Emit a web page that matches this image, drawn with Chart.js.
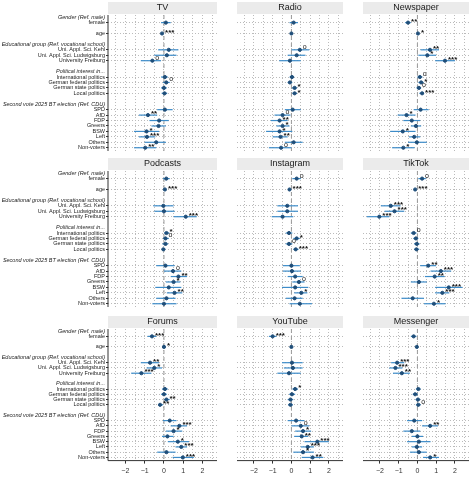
<!DOCTYPE html>
<html>
<head>
<meta charset="utf-8">
<script src="https://cdn.jsdelivr.net/npm/chart.js@4.4.1/dist/chart.umd.min.js"></script>
<style>
  body { margin: 0; background: #fff; }
  .panel { position: absolute; }
</style>
</head>
<body>
<script>
// row labels (headers are italic, blanks are spacers)
const rowLabels = ['Gender (Ref. male)', 'female', '', 'age', '', 'Educational group (Ref. vocational school)',
  'Uni. Appl. Sci. Kehl', 'Uni. Appl. Sci. Ludwigsburg', 'University Freiburg', '',
  'Political interest in...', 'International politics', 'German federal politics', 'German state politics', 'Local politics', '',
  'Second vote 2025 BT election (Ref. CDU)', 'SPD', 'AfD', 'FDP', 'Greens', 'BSW', 'Left', 'Others', 'Non-voters'];
const headerRows = [0, 5, 10, 16];
const varRows = [1, 3, 6, 7, 8, 11, 12, 13, 14, 17, 18, 19, 20, 21, 22, 23, 24];
const xTicks = [-2, -1, 0, 1, 2];

// coefficients per medium: estimate, lower, upper, significance
const tvEst  = [0.1, -0.1, 0.25, 0.15, -0.6, 0.05, 0.12, 0, 0.03, 0.05, -0.83, -0.25, -0.28, -0.9, -0.88, -0.4, -0.97];
const tvLow  = [-0.15, -0.13, -0.3, -0.5, -1.2, -0.15, -0.05, -0.15, -0.12, -0.35, -1.3, -0.75, -0.65, -1.55, -1.3, -1.0, -1.55];
const tvHigh = [0.35, -0.07, 0.75, 0.65, -0.15, 0.2, 0.3, 0.15, 0.17, 0.45, -0.35, 0.25, 0.1, -0.25, -0.45, 0.1, -0.4];
const tvSig  = ['', '***', '', '', 'o', '', 'o', '', '', '', '**', '', '', '*', '***', '', '**'];

const radioEst  = [0.12, 0, 0.45, 0.28, -0.08, 0.03, -0.08, 0.17, 0.17, 0.07, -0.47, -0.63, -0.47, -0.63, -0.58, 0.12, -0.55];
const radioLow  = [-0.1, -0.03, 0, -0.2, -0.65, -0.1, -0.2, 0.03, 0.05, -0.35, -0.9, -1.1, -0.8, -1.35, -1.0, -0.35, -1.2];
const radioHigh = [0.35, 0.03, 0.95, 0.75, 0.5, 0.15, 0.05, 0.3, 0.3, 0.5, -0.05, -0.2, -0.1, 0.05, -0.2, 0.6, 0];
const radioSig  = ['', '', 'o', '', '', '', '', '*', '*', '', 'o', '**', '*', '*', '**', '', 'o'];

const newsEst  = [-0.5, 0.03, 0.67, 0.53, 1.47, 0.13, 0.2, 0.08, 0.25, 0.17, -0.58, -0.3, -0.08, -0.78, -0.17, -0.03, -0.75];
const newsLow  = [-0.65, 0, 0.17, 0.05, 0.95, 0, 0.05, -0.05, 0.1, -0.2, -1.05, -0.75, -0.35, -1.45, -0.45, -0.5, -1.35];
const newsHigh = [-0.35, 0.06, 1.15, 1.0, 2.0, 0.27, 0.33, 0.2, 0.35, 0.6, -0.1, 0.15, 0.2, -0.1, 0.15, 0.5, -0.15];
const newsSig  = ['**', '*', '**', '*', '***', 'o', '*', 'o', '***', '', '*', '', '', '*', '', '', '*'];

const podEst  = [0.12, 0.05, -0.03, 0, 1.13, 0.13, 0.08, 0.08, -0.03, 0.08, 0.47, 0.75, 0.5, 0.25, 0.55, 0.13, 0];
const podLow  = [-0.05, 0.02, -0.55, -0.5, 0.5, 0, -0.05, -0.08, -0.12, -0.4, 0, 0.35, 0.1, -0.45, 0.15, -0.4, -0.6];
const podHigh = [0.3, 0.08, 0.5, 0.55, 1.7, 0.28, 0.25, 0.22, 0.07, 0.55, 0.9, 1.2, 0.85, 0.9, 0.95, 0.6, 0.65];
const podSig  = ['', '***', '', '', '***', '*', 'o', '', '', '', 'o', '**', '*', '', '**', '', ''];

const instaEst  = [0.28, -0.1, -0.22, -0.22, -0.47, -0.13, 0.28, -0.13, 0.23, 0, 0.03, 0.2, 0.4, 0.2, 0.53, 0.17, 0.45];
const instaLow  = [0.05, -0.13, -0.75, -0.75, -1.05, -0.3, 0.1, -0.3, 0.1, -0.45, -0.45, -0.2, 0.05, -0.5, 0.15, -0.3, -0.1];
const instaHigh = [0.5, -0.07, 0.35, 0.35, 0.1, 0.05, 0.45, 0.05, 0.38, 0.45, 0.5, 0.6, 0.7, 0.9, 0.85, 0.6, 1.1];
const instaSig  = ['o', '***', '', '', '', '', '*', 'o', '***', '', '', '', 'o', '', '*', '', ''];

const tiktokEst  = [0.25, -0.12, -1.42, -1.22, -2.03, -0.2, -0.08, -0.03, -0.05, 0.58, 1.25, 0.92, 0.08, 1.67, 1.33, -0.25, 0.88];
const tiktokLow  = [0.05, -0.15, -1.95, -1.75, -2.7, -0.35, -0.22, -0.18, -0.18, 0.15, 0.7, 0.4, -0.35, 0.95, 0.95, -0.85, 0.35];
const tiktokHigh = [0.45, -0.09, -0.9, -0.7, -1.5, -0.05, 0.05, 0.12, 0.1, 1.0, 1.8, 1.45, 0.5, 2.4, 1.7, 0.35, 1.5];
const tiktokSig  = ['o', '***', '***', '***', '***', 'o', '', '', '', '**', '***', '**', '', '***', '***', '', '*'];

const forumEst  = [-0.62, 0, -0.72, -0.5, -1.17, 0.05, 0, 0.13, -0.2, 0.3, 0.8, 0.5, 0.18, 0.72, 0.9, 0.13, 0.98];
const forumLow  = [-0.85, -0.03, -1.2, -0.9, -1.7, -0.1, -0.15, 0, -0.3, -0.05, 0.35, 0.1, -0.1, 0.2, 0.6, -0.35, 0.45];
const forumHigh = [-0.4, 0.03, -0.25, -0.1, -0.65, 0.2, 0.15, 0.3, -0.05, 0.65, 1.2, 0.95, 0.5, 1.3, 1.2, 0.6, 1.55];
const forumSig  = ['***', '*', '**', '*', '***', '', '', '**', '**', '', '***', '*', '', '*', '***', '', '***'];

const ytEst  = [-1.0, 0, 0.03, 0.08, -0.13, 0.2, 0.03, -0.05, -0.05, 0.25, 0.5, 0.62, 0.55, 1.38, 0.87, 0.62, 1.13];
const ytLow  = [-1.2, -0.03, -0.5, -0.4, -0.75, 0.05, -0.12, -0.2, -0.18, -0.2, 0, 0.2, 0.15, 0.7, 0.5, 0.1, 0.55];
const ytHigh = [-0.8, 0.03, 0.6, 0.6, 0.5, 0.35, 0.2, 0.1, 0.08, 0.7, 0.95, 1.05, 0.9, 2.0, 1.2, 1.2, 1.7];
const ytSig  = ['***', '', '', '', '', '*', '', '', '', '', 'o', '*', '**', '***', '***', '*', '**'];

const msgEst  = [-0.2, -0.03, -1.08, -1.17, -0.83, 0.05, -0.12, 0.03, 0.05, -0.17, 0.68, -0.3, 0, 0.08, -0.03, 0.08, 0.68];
const msgLow  = [-0.35, -0.06, -1.4, -1.5, -1.3, -0.08, -0.25, -0.1, -0.08, -0.55, 0.25, -0.75, -0.3, -0.55, -0.3, -0.4, 0.3];
const msgHigh = [-0.05, 0, -0.7, -0.8, -0.4, 0.17, 0.02, 0.15, 0.17, 0.25, 1.1, 0.15, 0.3, 0.7, 0.25, 0.5, 1.15];
const msgSig  = ['', '', '***', '***', '**', '', '', '', 'o', '', '**', '', '', '', '', '', '*'];

const panels = [
  { title: 'TV', est: tvEst, low: tvLow, high: tvHigh, sig: tvSig },
  { title: 'Radio', est: radioEst, low: radioLow, high: radioHigh, sig: radioSig },
  { title: 'Newspaper', est: newsEst, low: newsLow, high: newsHigh, sig: newsSig },
  { title: 'Podcasts', est: podEst, low: podLow, high: podHigh, sig: podSig },
  { title: 'Instagram', est: instaEst, low: instaLow, high: instaHigh, sig: instaSig },
  { title: 'TikTok', est: tiktokEst, low: tiktokLow, high: tiktokHigh, sig: tiktokSig },
  { title: 'Forums', est: forumEst, low: forumLow, high: forumHigh, sig: forumSig },
  { title: 'YouTube', est: ytEst, low: ytLow, high: ytHigh, sig: ytSig },
  { title: 'Messenger', est: msgEst, low: msgLow, high: msgHigh, sig: msgSig },
];

const FONT = 'Liberation Sans, Arial, sans-serif';
const colLeft = [0, 232, 358];
const colWidth = [222, 116, 116];
const rowTop = [0, 156, 314];

// strip header, zero line, CIs and significance marks
const coefPlugin = {
  id: 'coef',
  beforeDatasetsDraw(chart, args, opts) {
    const { ctx, chartArea: a, scales: { x, y } } = chart;
    ctx.save();
    ctx.fillStyle = '#ebebeb';
    ctx.fillRect(a.left, a.top - 13, a.right - a.left, 12);
    ctx.fillStyle = '#1a1a1a';
    ctx.font = '9px ' + FONT;
    ctx.textAlign = 'center';
    ctx.textBaseline = 'middle';
    ctx.fillText(opts.panel.title, (a.left + a.right) / 2, a.top - 7);
    // zero line
    ctx.strokeStyle = '#999';
    ctx.setLineDash([4, 3]);
    ctx.lineWidth = 1;
    const x0 = x.getPixelForValue(0);
    ctx.beginPath(); ctx.moveTo(x0, a.top); ctx.lineTo(x0, a.bottom); ctx.stroke();
    ctx.setLineDash([]);
    if (opts.leftAxis) {
      ctx.strokeStyle = '#333';
      ctx.beginPath(); ctx.moveTo(a.left, a.top); ctx.lineTo(a.left, a.bottom); ctx.stroke();
    }
    if (opts.bottomAxis) {
      ctx.strokeStyle = '#333';
      ctx.beginPath(); ctx.moveTo(a.left, a.bottom); ctx.lineTo(a.right, a.bottom); ctx.stroke();
    }
    // confidence intervals
    const p = opts.panel;
    ctx.strokeStyle = '#3d8cc9';
    ctx.lineWidth = 1.2;
    varRows.forEach((r, i) => {
      const py = y.getPixelForValue(r);
      ctx.beginPath();
      ctx.moveTo(x.getPixelForValue(p.low[i]), py);
      ctx.lineTo(x.getPixelForValue(p.high[i]), py);
      ctx.stroke();
    });
    ctx.restore();
  },
  afterDatasetsDraw(chart, args, opts) {
    const { ctx, scales: { x, y } } = chart;
    const p = opts.panel;
    ctx.save();
    ctx.fillStyle = '#111';
    ctx.textAlign = 'left';
    ctx.textBaseline = 'middle';
    varRows.forEach((r, i) => {
      const s = p.sig[i];
      if (!s) return;
      ctx.font = (s === 'o' ? '7px ' : 'bold 8px ') + FONT;
      ctx.fillText(s, x.getPixelForValue(p.est[i]) + 3, y.getPixelForValue(r) - (s === 'o' ? 3 : 1));
    });
    ctx.restore();
  }
};

panels.forEach((p, k) => {
  const col = k % 3, row = Math.floor(k / 3);
  const left = col === 0, bottom = row === 2;
  const div = document.createElement('div');
  div.className = 'panel';
  div.style.left = colLeft[col] + 'px';
  div.style.top = rowTop[row] + 'px';
  div.style.width = colWidth[col] + 'px';
  div.style.height = (bottom ? 164 : 156) + 'px';
  const canvas = document.createElement('canvas');
  div.appendChild(canvas);
  document.body.appendChild(div);

  new Chart(canvas, {
    type: 'scatter',
    data: {
      datasets: [{
        data: varRows.map((r, i) => ({ x: p.est[i], y: r })),
        backgroundColor: '#1f4e79',
        borderColor: '#1f4e79',
        pointRadius: 1.6,
      }]
    },
    options: {
      responsive: true,
      maintainAspectRatio: false,
      animation: false,
      layout: { padding: { top: 15, right: 2, left: 0, bottom: bottom ? 0 : 4 } },
      plugins: {
        legend: { display: false },
        tooltip: { enabled: false },
        coef: { panel: p, leftAxis: left, bottomAxis: bottom },
      },
      scales: {
        x: {
          type: 'linear',
          min: -2.9, max: 2.75,
          afterBuildTicks: (s) => { s.ticks = [-2.5, -2, -1.5, -1, -0.5, 0, 0.5, 1, 1.5, 2, 2.5].map(v => ({ value: v })); },
          grid: { color: '#bbb', drawTicks: bottom, tickColor: (c) => Number.isInteger(c.tick.value) ? '#333' : 'transparent', tickLength: 3 },
          border: { display: false, dash: [1, 2] },
          ticks: {
            display: bottom,
            autoSkip: false,
            maxRotation: 0,
            color: '#333',
            font: { size: 7, family: FONT },
            callback: (v) => xTicks.includes(v) ? String(v).replace('-', '\u2212') : '',
          },
          afterFit: (s) => { if (!bottom) s.height = 0; },
        },
        y: {
          type: 'linear',
          reverse: true,
          min: -0.4, max: 24.6,
          afterBuildTicks: (s) => { s.ticks = rowLabels.map((_, i) => ({ value: i })); },
          grid: {
            color: (c) => varRows.includes(c.tick.value) ? '#bbb' : 'transparent',
            drawTicks: left,
            tickColor: (c) => varRows.includes(c.tick.value) ? '#333' : 'transparent',
            tickLength: 2,
          },
          border: { display: false, dash: [1, 2] },
          ticks: {
            display: left,
            autoSkip: false,
            padding: 1,
            color: '#222',
            font: (c) => ({ size: 5.5, family: FONT, style: headerRows.includes(c.index) ? 'italic' : 'normal' }),
            callback: (v) => rowLabels[v],
          },
          afterFit: (s) => { s.width = left ? 108 : 0; },
        }
      }
    },
    plugins: [coefPlugin]
  });
});
</script>
</body>
</html>
